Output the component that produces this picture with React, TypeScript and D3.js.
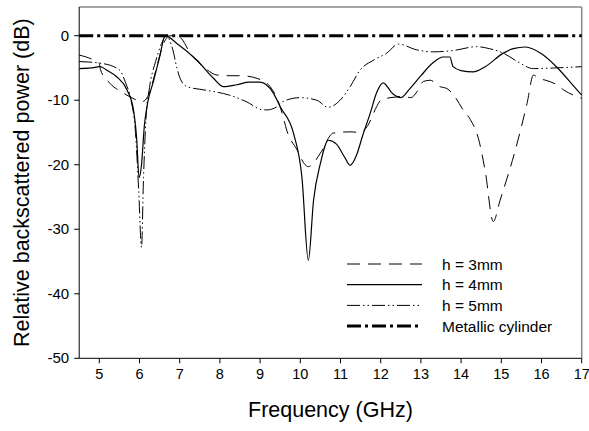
import * as d3 from 'd3';

const W = 589;
const H = 431;
const LEFT = 79.2;
const RIGHT = 581.7;
const TOP = 7;
const BOTTOM = 358.3;

// frequency (GHz) / relative backscattered power (dB)
const h3Freq = [4.5, 4.8, 5.0, 5.03, 5.27, 5.6, 5.93, 6.03, 6.14, 6.27, 6.43, 6.6, 6.76, 6.95, 7.05, 7.26, 7.59, 7.93, 8.2, 8.5, 8.7, 8.92, 9.25, 9.42, 9.57, 9.66, 9.92, 10.12, 10.2, 10.29, 10.5, 10.82, 11.24, 11.49, 11.66, 11.9, 12.0, 12.15, 12.4, 12.56, 12.75, 12.9, 13.06, 13.23, 13.48, 13.65, 13.85, 14.05, 14.23, 14.43, 14.6, 14.8, 14.97, 15.35, 15.64, 15.8, 15.93, 16.1, 16.38, 16.55, 17];
const h3Power = [-3.0, -3.6, -4.3, -5.3, -7.4, -8.9, -10.0, -10.3, -10.0, -8.4, -4.8, -1.2, 0.0, 0.0, -0.5, -2.7, -4.8, -6.1, -6.2, -6.2, -6.3, -6.6, -7.9, -9.7, -12.5, -14.6, -17.7, -20, -20.3, -20, -18.2, -15.1, -14.9, -15, -14.1, -11, -10, -9.7, -9.5, -9.4, -9.6, -8.7, -7.1, -6.9, -7.9, -8.2, -9.5, -11.5, -13, -15.9, -21, -28.8, -25.5, -17.7, -10.5, -6.1, -6.6, -6.9, -7.6, -8.4, -9.7];

const h4Freq = [4.5, 4.8, 5.02, 5.2, 5.44, 5.69, 5.85, 5.93, 5.99, 6.05, 6.12, 6.2, 6.35, 6.5, 6.64, 6.93, 7.43, 7.84, 8.09, 8.42, 8.73, 9.0, 9.33, 9.5, 9.83, 10.04, 10.2, 10.33, 10.5, 10.7, 10.9, 11.1, 11.24, 11.4, 11.55, 11.74, 11.9, 12.06, 12.3, 12.5, 12.7, 13.0, 13.3, 13.55, 13.72, 13.8, 14.0, 14.3, 14.6, 15.05, 15.3, 15.6, 16.0, 16.4, 16.8, 17];
const h4Power = [-5.1, -5.0, -4.8, -5.4, -6.4, -8.4, -11.5, -16, -22, -20, -14, -10.5, -7, -3.3, 0, -1.2, -3.8, -6.6, -7.9, -7.6, -7.2, -7.2, -8.9, -11, -15.1, -21.9, -34.8, -25.5, -19.8, -16.2, -16.8, -18.8, -20.1, -18.5, -15.5, -12, -8.8, -7.3, -9, -9.6, -8.4, -6.2, -4.2, -3.3, -3.3, -4.8, -5.4, -5.6, -4.8, -2.7, -2.0, -1.75, -2.8, -5, -7.8, -9.2];

const h5Freq = [4.5, 5.07, 5.5, 5.66, 5.79, 5.9, 5.98, 6.05, 6.1, 6.16, 6.25, 6.4, 6.55, 6.66, 6.83, 6.93, 7.01, 7.18, 7.5, 7.8, 8.23, 8.65, 9.08, 9.17, 9.42, 9.57, 10.0, 10.41, 10.69, 10.99, 11.24, 11.49, 11.82, 12.15, 12.44, 12.9, 13.31, 13.8, 14.39, 14.7, 15.05, 15.4, 15.8, 16.3, 17];
const h5Power = [-4.0, -4.3, -5.3, -7.4, -10, -15, -24, -32.8, -22, -13, -8, -4, -1.2, 0, -2.2, -5.0, -6.6, -7.9, -8.3, -8.6, -9.2, -10.2, -11.5, -11.5, -11, -10.2, -9.6, -10, -11.1, -10, -7.9, -5.3, -3.8, -2.7, -1.3, -2.2, -2.5, -2.3, -1.7, -2.0, -2.7, -4.0, -5.1, -5.0, -4.8];

const metalFreq = [4.5, 17];
const metalPower = [0, 0];

const xTicks = [5, 6, 7, 8, 9, 10, 11, 12, 13, 14, 15, 16, 17];
const yTicks = [0, -10, -20, -30, -40, -50];

const seriesNames = ['h = 3mm', 'h = 4mm', 'h = 5mm', 'Metallic cylinder'];
const seriesDash = ['13,8', '', '13,3,1.5,3,1.5,3', '14,4,3,4'];
const seriesWidth = [1, 1.2, 1, 3];

const FONT = 'Liberation Sans, Arial, Helvetica, sans-serif';

export default function App() {
  const x = d3.scaleLinear().domain([4.5, 17]).range([LEFT, RIGHT]);
  const y = d3.scaleLinear().domain([-50, 4.45]).range([BOTTOM, TOP]);

  const line = d3.line<[number, number]>()
    .x(d => x(d[0]))
    .y(d => y(d[1]))
    .curve(d3.curveMonotoneX);

  const series = [
    d3.zip(h3Freq, h3Power),
    d3.zip(h4Freq, h4Power),
    d3.zip(h5Freq, h5Power),
    d3.zip(metalFreq, metalPower),
  ] as [number, number][][];

  const legX1 = 347;
  const legX2 = 422;
  const legY0 = 264;
  const legStep = 20.7;

  return (
    <svg width={W} height={H} style={{ position: 'absolute', left: 0, top: 0 }} fontFamily={FONT}>
      <rect width={W} height={H} fill="#fff" />

      {/* frame */}
      <line x1={LEFT} x2={RIGHT} y1={TOP} y2={TOP} stroke="#888" strokeWidth={1.5} />
      <line x1={RIGHT} x2={RIGHT} y1={TOP} y2={BOTTOM} stroke="#888" strokeWidth={1.5} />

      {series.map((s, i) => (
        <path
          key={i}
          d={line(s) ?? ''}
          fill="none"
          stroke="#000"
          strokeWidth={seriesWidth[i]}
          strokeDasharray={seriesDash[i] || undefined}
        />
      ))}

      {/* axes */}
      <line x1={LEFT} x2={LEFT} y1={TOP} y2={BOTTOM} stroke="#000" strokeWidth={1} />
      <line x1={LEFT} x2={RIGHT} y1={BOTTOM} y2={BOTTOM} stroke="#000" strokeWidth={1} />
      {yTicks.map(v => (
        <g key={v}>
          <line x1={LEFT - 5} x2={LEFT} y1={y(v)} y2={y(v)} stroke="#000" />
          <text x={LEFT - 10} y={y(v) + 5} textAnchor="end" fontSize={15} fill="#000">
            {v}
          </text>
        </g>
      ))}
      {xTicks.map(v => (
        <g key={v}>
          <line x1={x(v)} x2={x(v)} y1={BOTTOM} y2={BOTTOM + 5} stroke="#000" />
          <text x={x(v)} y={BOTTOM + 21} textAnchor="middle" fontSize={14.5} fill="#000">
            {v}
          </text>
        </g>
      ))}

      <text x={(LEFT + RIGHT) / 2} y={417} textAnchor="middle" fontSize={21.5} fill="#000">
        Frequency (GHz)
      </text>
      <text
        transform={`translate(28.5, ${(TOP + BOTTOM) / 2}) rotate(-90)`}
        textAnchor="middle"
        fontSize={21.5}
        fill="#000"
      >
        Relative backscattered power (dB)
      </text>

      {/* legend */}
      {seriesNames.map((name, i) => {
        const ly = legY0 + i * legStep;
        return (
          <g key={name}>
            <line
              x1={legX1}
              x2={legX2}
              y1={ly}
              y2={ly}
              stroke="#000"
              strokeWidth={seriesWidth[i]}
              strokeDasharray={seriesDash[i] || undefined}
            />
            <text x={442} y={ly + 5.5} fontSize={15.5} fill="#000">
              {name}
            </text>
          </g>
        );
      })}
    </svg>
  );
}
